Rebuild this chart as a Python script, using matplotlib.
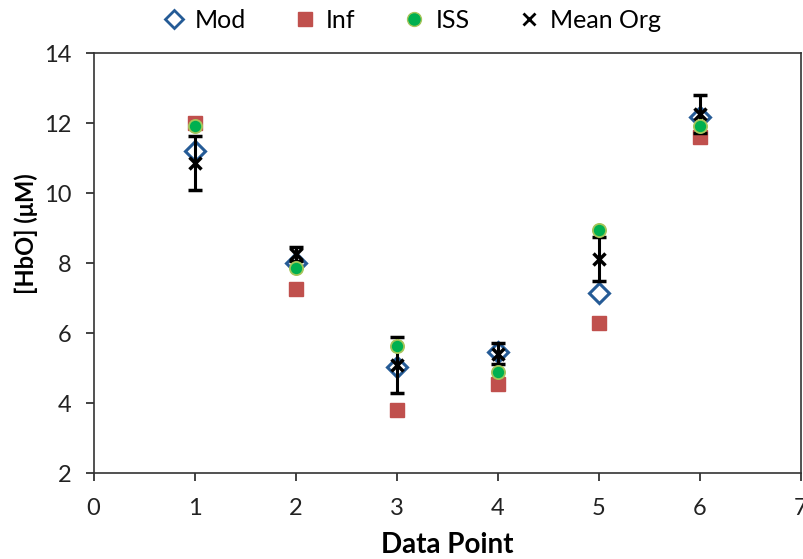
import matplotlib.pyplot as plt
from matplotlib.lines import Line2D

# values
points = [1, 2, 3, 4, 5, 6]
mod = [11.2, 8.02, 5.05, 5.48, 7.16, 12.18]
inf = [12.0, 7.27, 3.8, 4.57, 6.3, 11.6]
iss = [11.93, 7.87, 5.65, 4.91, 8.96, 11.92]
mean_org = [10.87, 8.28, 5.1, 5.42, 8.12, 12.27]
mean_err = [0.78, 0.2, 0.81, 0.3, 0.63, 0.55]

plt.rcParams['font.family'] = ['Lato', 'DejaVu Sans']

fig = plt.figure(figsize=(8.04, 5.59), dpi=100)
ax = fig.add_axes([0.1163, 0.153, 0.8800, 0.7513])

blue = '#255b96'
red = '#c0504d'
green = '#00b050'
green_edge = '#a5c55a'

# series in drawing order
ax.plot(points, mod, linestyle='none', marker='D', markersize=10.5,
        markerfacecolor='white', markeredgecolor=blue,
        markeredgewidth=2.2, zorder=2)
ax.plot(points, inf, linestyle='none', marker='s', markersize=10.5,
        color=red, zorder=3)
ax.errorbar(points, mean_org, yerr=mean_err, linestyle='none',
            marker='x', markersize=9, markeredgewidth=2.5,
            color='black', ecolor='black', elinewidth=2.2,
            capsize=4.7, capthick=2.2, zorder=4)
ax.plot(points, iss, linestyle='none', marker='o', markersize=9.5,
        markerfacecolor=green, markeredgecolor=green_edge,
        markeredgewidth=1.3, zorder=5)

ax.set_xlim(0, 7)
ax.set_ylim(2, 14)
ax.set_xticks(range(0, 8))
ax.set_yticks(range(2, 15, 2))
ax.tick_params(direction='out', length=6, width=1.2, labelsize=17,
               colors='#222222')
ax.tick_params(axis='x', pad=12)
ax.tick_params(axis='y', pad=10)
for s in ax.spines.values():
    s.set_linewidth(1.2)
    s.set_color('#333333')

ax.set_xlabel('Data Point', fontsize=20, fontweight='bold', labelpad=9)
ax.set_ylabel('[HbO] (μM)', fontsize=17, fontweight='bold', labelpad=4)
ax.yaxis.label.set_y(0.57)

# legend handles (markers only)
handles = [
    Line2D([], [], linestyle='none', marker='D', markersize=9,
           markerfacecolor='white', markeredgecolor=blue, markeredgewidth=2),
    Line2D([], [], linestyle='none', marker='s', markersize=10, color=red),
    Line2D([], [], linestyle='none', marker='o', markersize=10,
           markerfacecolor=green, markeredgecolor=green_edge),
    Line2D([], [], linestyle='none', marker='x', markersize=8,
           markeredgewidth=2, color='black'),
]
fig.legend(handles, ['Mod', 'Inf', 'ISS', 'Mean Org'],
           loc='upper center', bbox_to_anchor=(0.512, 1.025), ncol=4,
           frameon=False, fontsize=18, handlelength=0.9, handletextpad=0.4,
           columnspacing=1.9)

fig.savefig('out.png', dpi=100)
